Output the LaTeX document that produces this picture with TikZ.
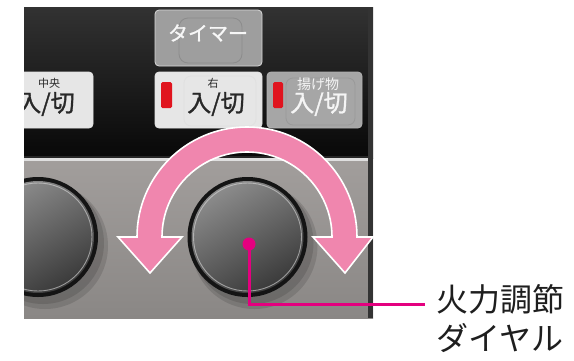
\documentclass[tikz,border=0pt]{standalone}
\usepackage{fontspec}
\setmainfont{Noto Sans CJK JP}
\newfontfamily\btnfont{Noto Sans CJK JP}[FakeBold=1.2]
\definecolor{panelTop}{RGB}{50,50,50}
\definecolor{panelBot}{RGB}{8,8,8}
\definecolor{grayTop}{RGB}{162,158,156}
\definecolor{grayBot}{RGB}{138,135,133}
\definecolor{btnLight}{RGB}{230,230,230}
\definecolor{btnMid}{RGB}{158,158,158}
\definecolor{btnDark}{RGB}{166,166,166}
\definecolor{ledRed}{RGB}{224,20,30}
\definecolor{arrowPink}{RGB}{240,134,174}
\definecolor{leader}{RGB}{228,0,127}
\definecolor{faceLight}{RGB}{140,140,140}
\definecolor{faceDark}{RGB}{58,58,58}
\definecolor{txtDark}{RGB}{40,40,40}
\definecolor{txtLabel}{RGB}{30,30,30}
\tikzset{
  btn/.style={rounded corners=4pt, line width=0.8pt},
  led/.style={fill=ledRed, rounded corners=1.5pt},
  btntext/.style={inner sep=0pt, font=\btnfont\fontsize{24}{24}\selectfont},
  smalltext/.style={inner sep=0pt, font=\fontsize{11}{11}\selectfont},
  ring/.style={fill=black!92},
  face/.style={top color=faceLight, bottom color=faceDark, shading angle=30},
  rim/.style={draw=white!70!gray, line width=0.9pt, opacity=0.6},
  knobshadow/.style={fill=black, opacity=0.12},
  pinkarrow/.style={fill=arrowPink, draw=white, line width=1.6pt, line join=miter},
  leaderline/.style={draw=leader, line width=3pt},
}
\newcommand{\knob}[3]{%
  \fill[knobshadow] (#1+7,#2+9) circle[radius=63];
  \fill[knobshadow] (#1+5,#2+6) circle[radius=61];
  \fill[ring] (#1,#2) circle[radius=60];
  \shade[face] (#1,#2) circle[radius=56];
  \draw[rim] (#1,#2) circle[radius=54];
  \coordinate (#3) at (#1,#2);
}
\begin{document}
\begin{tikzpicture}[x=1pt,y=-1pt]
\useasboundingbox (0,0) rectangle (574,360);
\begin{scope}
  \clip (24,7) rectangle (373,318);
  % black top panel
  \shade[top color=panelTop, bottom color=panelBot] (24,7) rectangle (373,158);
  % gray lower panel
  \shade[top color=grayTop, bottom color=grayBot] (24,158) rectangle (373,318);
  \fill[white!75!gray] (24,158) rectangle (373,160.5);
  \fill[black!85] (24,156) rectangle (373,158);
  % right dark strip
  \fill[black!80] (368,7) rectangle (373,318);
  % knobs
  \knob{38}{237}{knobL}
  \knob{247.5}{237}{knobR}
  % timer button
  \draw[btn, fill=btnMid, draw=white!70!gray] (155,10) rectangle (262,66);
  \draw[rounded corners=9pt, draw=black!45, line width=0.8pt] (179,18) rectangle (242,63);
  \node[inner sep=0pt, text=white!94!gray, font=\btnfont\fontsize{20}{20}\selectfont] (timer) at (208,33) {タイマー};
  % centre button
  \draw[btn, fill=btnLight, draw=white!80!gray] (6,72) rectangle (93,128);
  \node[smalltext, text=txtDark] (cenS) at (49,83) {中央};
  \node[btntext, text=txtDark] (cenB) at (46,104) {入/切};
  % right button
  \draw[btn, fill=btnLight, draw=white!80!gray] (155,72) rectangle (262,128);
  \draw[rounded corners=7pt, draw=black!12, line width=0.8pt] (184,76) rectangle (256,126);
  \fill[led] (161,82) rectangle (172,108);
  \node[smalltext, text=txtDark] (rgtS) at (213,83) {右};
  \node[btntext, text=txtDark] (rgtB) at (216,104) {入/切};
  % fryer button
  \draw[btn, fill=btnDark, draw=black!30] (267,72) rectangle (362,128);
  \draw[rounded corners=7pt, draw=black!40, line width=0.8pt] (286,78) rectangle (355,125);
  \fill[led] (273,82) rectangle (283,108);
  \node[inner sep=0pt, text=white!92!gray, font=\fontsize{14}{14}\selectfont] (fryS) at (318,84) {揚げ物};
  \node[btntext, text=white!92!gray] (fryB) at (319,104) {入/切};
\end{scope}
% pink rotation arrow
\draw[pinkarrow] (137,237) arc[start angle=180, end angle=360, radius=110]
  -- (373,237) -- (345,273) -- (313,237) -- (332,237)
  arc[start angle=0, end angle=-180, radius=85]
  -- (182,237) -- (150,273) -- (118,237) -- cycle;
% leader
\node[circle, fill=leader, inner sep=0pt, minimum size=13pt] (dot) at (249,244) {};
\coordinate (lend) at (425,304);
\draw[leaderline] (dot.center) |- (lend);
\node[anchor=north west, inner sep=0pt, align=left, text=txtLabel,
  font=\fontsize{32}{39}\selectfont] (label) at (436,284) {火力調節\\ダイヤル};
\end{tikzpicture}
\end{document}
